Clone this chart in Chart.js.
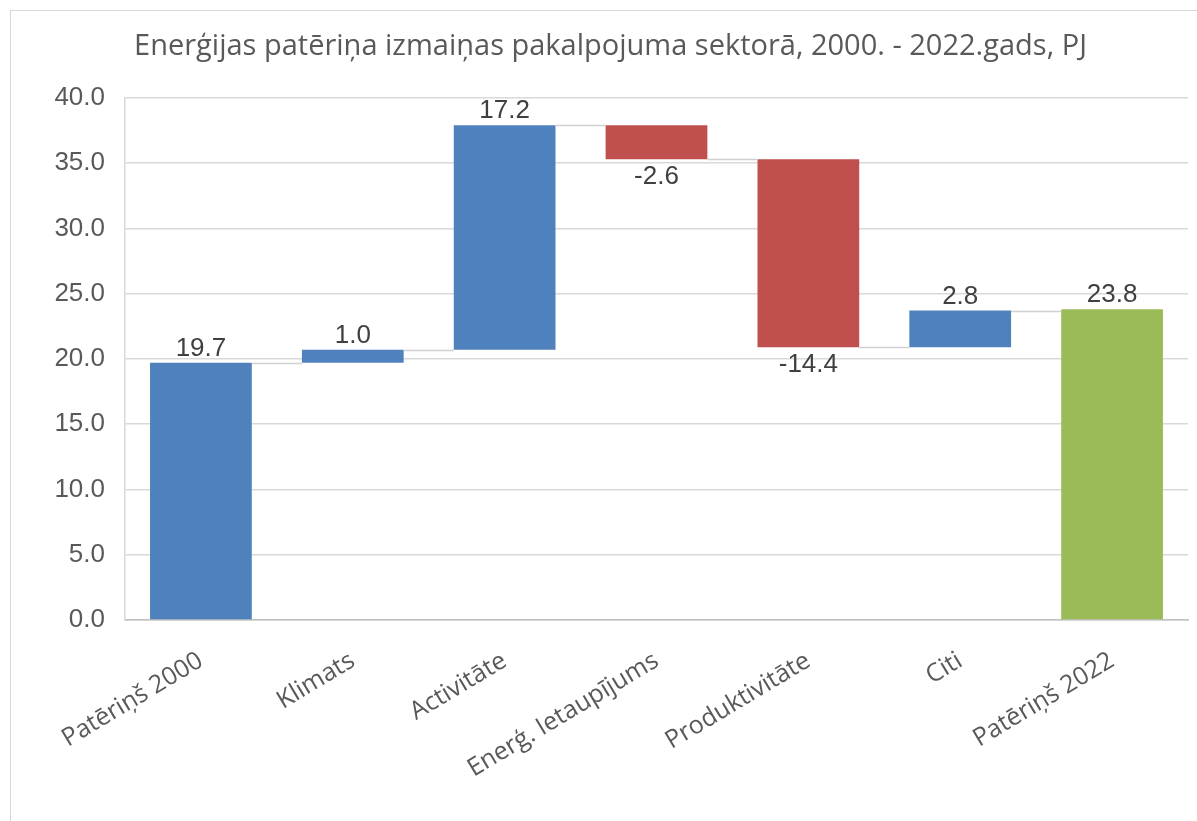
<!DOCTYPE html>
<html><head><meta charset="utf-8">
<script src="https://cdn.jsdelivr.net/npm/chart.js@4.4.0/dist/chart.umd.min.js"></script>
<style>
html,body{margin:0;padding:0;background:#fff;overflow:hidden;width:1197px;height:821px}
#frame{position:absolute;left:10px;top:10px;width:1200px;height:830px;border:1px solid #d9d9d9;box-sizing:border-box}
canvas{position:absolute;left:0;top:0}
</style></head>
<body>
<div id="frame"><canvas id="c" width="1195" height="818"></canvas></div>
<script>
const titleText = 'Enerģijas patēriņa izmaiņas pakalpojuma sektorā, 2000. - 2022.gads, PJ';
const categories = ['Patēriņš 2000', 'Klimats', 'Activitāte', 'Enerģ. Ietaupījums', 'Produktivitāte', 'Citi', 'Patēriņš 2022'];
const changes = [19.7, 1.0, 17.2, -2.6, -14.4, 2.8, 23.8];
const barKinds = ['total', 'step', 'step', 'step', 'step', 'step', 'total'];
const yTickValues = [0, 5, 10, 15, 20, 25, 30, 35, 40];

const BLUE = '#4F81BD', RED = '#C0504D', GREEN = '#9BBB59';

// build floating ranges from the changes
const ranges = [];
let running = 0;
changes.forEach((v, i) => {
  if (barKinds[i] === 'total') { ranges.push([0, v]); running = v; }
  else { ranges.push([running, running + v]); running += v; }
});
const colors = changes.map((v, i) => i === changes.length - 1 ? GREEN : (v < 0 ? RED : BLUE));

const FONT = '"Liberation Sans", Arial, sans-serif';
const FONT2 = '"Open Sans", "Liberation Sans", sans-serif';

const waterfallExtras = {
  id: 'waterfallExtras',
  afterDatasetsDraw(chart) {
    const ctx = chart.ctx;
    const meta = chart.getDatasetMeta(0);
    const ys = chart.scales.y;
    ctx.save();
    // connectors
    ctx.strokeStyle = '#d0d0d0';
    ctx.lineWidth = 1.5;
    for (let i = 0; i < meta.data.length - 1; i++) {
      const a = meta.data[i], b = meta.data[i + 1];
      const py = Math.round(ys.getPixelForValue(ranges[i][1])) + 0.5;
      ctx.beginPath();
      ctx.moveTo(a.x + a.width / 2, py);
      ctx.lineTo(b.x - b.width / 2, py);
      ctx.stroke();
    }
    // value labels
    ctx.fillStyle = '#404040';
    ctx.font = '26px ' + FONT;
    ctx.textAlign = 'center';
    meta.data.forEach((bar, i) => {
      const v = changes[i];
      const top = Math.min(bar.y, bar.base), bottom = Math.max(bar.y, bar.base);
      const txt = v.toFixed(1);
      if (v >= 0) { ctx.textBaseline = 'bottom'; ctx.fillText(txt, bar.x, top - 1); }
      else { ctx.textBaseline = 'top'; ctx.fillText(txt, bar.x, bottom + 5); }
    });
    ctx.restore();
  }
};

new Chart(document.getElementById('c'), {
  type: 'bar',
  data: {
    labels: categories,
    datasets: [{
      data: ranges,
      backgroundColor: colors,
      borderWidth: 0,
      borderSkipped: false,
      categoryPercentage: 1,
      barPercentage: 0.67
    }]
  },
  options: {
    responsive: false,
    animation: false,
    layout: { padding: { left: 22, right: 18, top: 0, bottom: 0 } },
    plugins: {
      legend: { display: false },
      tooltip: { enabled: false },
      title: {
        display: true,
        text: titleText,
        color: '#595959',
        font: { family: FONT2, size: 29, weight: 'normal', lineHeight: 1.2 },
        padding: { top: 18, bottom: 34 }
      }
    },
    scales: {
      x: {
        grid: { display: false, drawTicks: false },
        border: { display: true, color: '#bfbfbf', width: 1.5 },
        ticks: {
          color: '#595959',
          font: { family: FONT2, size: 25 },
          minRotation: 31, maxRotation: 31,
          autoSkip: false,
          padding: 26
        },
        afterFit(s) { s.height = 818 - 609; }
      },
      y: {
        min: 0, max: 40,
        afterBuildTicks(s) { s.ticks = yTickValues.map(v => ({ value: v })); },
        grid: { color: '#d9d9d9', lineWidth: 1.5, drawTicks: false },
        border: { display: true, color: '#d9d9d9', width: 1.5 },
        ticks: {
          color: '#595959',
          font: { family: FONT, size: 26 },
          padding: 20,
          callback: v => Number(v).toFixed(1)
        },
        afterFit(s) { s.width = 92; }
      }
    }
  },
  plugins: [waterfallExtras]
});
</script>
</body></html>
